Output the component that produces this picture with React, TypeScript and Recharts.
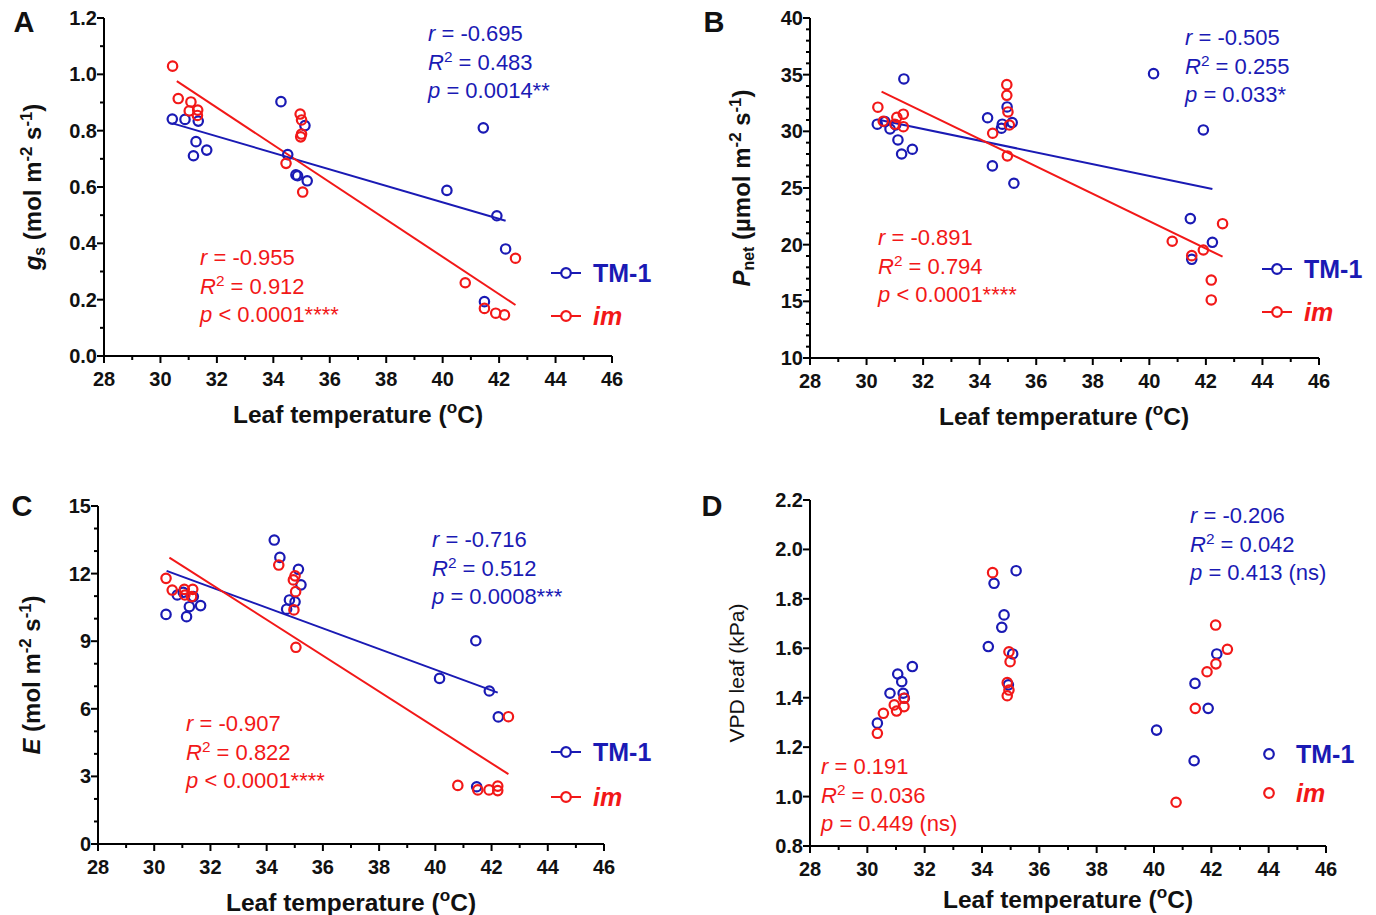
import React from "react";
import { ReferenceLine, Scatter, ScatterChart, XAxis, YAxis } from "recharts";

const BLUE = "#1a1ab4";
const RED = "#f21818";
const FONT = '"Liberation Sans", Arial, sans-serif';

// leaf temperature axis, shared by all panels
const tempTicks = [28, 29, 30, 31, 32, 33, 34, 35, 36, 37, 38, 39, 40, 41, 42, 43, 44, 45, 46];
const gsTicks = [0, 0.1, 0.2, 0.3, 0.4, 0.5, 0.6, 0.7, 0.8, 0.9, 1.0, 1.1, 1.2];
const pnetTicks = [10, 11, 12, 13, 14, 15, 16, 17, 18, 19, 20, 21, 22, 23, 24, 25, 26, 27, 28, 29, 30, 31, 32, 33, 34, 35, 36, 37, 38, 39, 40];
const eTicks = [0, 1, 2, 3, 4, 5, 6, 7, 8, 9, 10, 11, 12, 13, 14, 15];
const vpdTicks = [0.8, 1.0, 1.2, 1.4, 1.6, 1.8, 2.0, 2.2];

// [leaf temperature, value]
const gsTM = [[30.42, 0.841], [30.87, 0.84], [31.34, 0.834], [31.26, 0.761], [31.17, 0.711], [31.64, 0.731], [34.27, 0.903], [34.51, 0.715], [34.8, 0.643], [34.86, 0.64], [35.2, 0.622], [35.12, 0.818], [41.44, 0.81], [40.15, 0.588], [41.92, 0.498], [42.23, 0.38], [41.48, 0.193]];
const gsIM = [[30.43, 1.029], [30.63, 0.914], [31.08, 0.902], [31.02, 0.87], [31.32, 0.873], [31.31, 0.854], [34.95, 0.859], [35.0, 0.838], [35.0, 0.788], [34.97, 0.778], [34.45, 0.684], [35.04, 0.582], [42.58, 0.347], [40.8, 0.26], [41.48, 0.169], [41.88, 0.152], [42.19, 0.146]];
const pnetTM = [[31.32, 34.62], [30.38, 30.63], [30.65, 30.86], [30.83, 30.21], [31.03, 30.56], [31.11, 29.24], [31.24, 28.0], [31.62, 28.42], [34.28, 31.2], [34.45, 26.95], [34.77, 30.27], [34.8, 30.63], [34.97, 32.15], [35.15, 30.77], [35.21, 25.42], [40.15, 35.09], [41.91, 30.12], [41.45, 22.3], [42.23, 20.21], [41.5, 18.71]];
const pnetIM = [[30.4, 32.13], [30.59, 30.89], [31.0, 30.63], [31.07, 31.24], [31.3, 31.51], [31.3, 30.41], [34.96, 34.12], [34.96, 33.18], [35.0, 31.71], [35.05, 30.56], [34.46, 29.83], [34.98, 27.83], [42.59, 21.85], [40.81, 20.3], [41.91, 19.53], [41.5, 19.03], [42.19, 16.88], [42.19, 15.12]];
const eTM = [[30.42, 10.19], [30.82, 11.05], [31.03, 11.17], [31.15, 10.09], [31.25, 10.53], [31.39, 10.98], [31.65, 10.58], [34.27, 13.49], [34.47, 12.72], [35.13, 12.19], [35.22, 11.5], [34.81, 10.83], [35.01, 10.75], [34.71, 10.42], [41.44, 9.02], [40.15, 7.35], [41.92, 6.79], [42.24, 5.64], [41.47, 2.54]];
const eIM = [[30.42, 11.79], [30.64, 11.27], [31.07, 11.3], [31.37, 11.3], [31.09, 11.05], [31.33, 10.98], [34.43, 12.38], [35.01, 11.9], [34.95, 11.72], [35.03, 11.2], [34.97, 10.39], [35.04, 8.73], [42.6, 5.65], [40.8, 2.6], [41.51, 2.4], [41.91, 2.4], [42.22, 2.57], [42.22, 2.37]];
const vpdTM = [[30.35, 1.297], [30.79, 1.418], [31.06, 1.496], [31.2, 1.465], [31.25, 1.418], [31.29, 1.398], [31.57, 1.526], [34.22, 1.607], [34.42, 1.863], [35.19, 1.914], [34.77, 1.735], [34.69, 1.685], [35.07, 1.577], [34.92, 1.452], [40.09, 1.269], [41.43, 1.458], [42.19, 1.577], [41.89, 1.357], [41.4, 1.145]];
const vpdIM = [[30.35, 1.256], [30.56, 1.337], [30.94, 1.371], [31.02, 1.346], [31.28, 1.364], [31.28, 1.398], [34.37, 1.906], [34.94, 1.586], [34.98, 1.546], [34.88, 1.461], [34.94, 1.431], [34.88, 1.408], [42.15, 1.694], [42.56, 1.596], [42.16, 1.537], [41.85, 1.505], [41.44, 1.357], [40.77, 0.977]];

// regression line end points
const gsTMFit = [[30.43, 0.826], [42.23, 0.48]];
const gsIMFit = [[30.58, 0.976], [42.58, 0.181]];
const pnetTMFit = [[30.47, 31.0], [42.23, 24.92]];
const pnetIMFit = [[30.53, 33.5], [42.59, 18.94]];
const eTMFit = [[30.44, 12.12], [42.22, 6.72]];
const eIMFit = [[30.54, 12.71], [42.6, 3.1]];

const toPts = (rows: number[][]) => rows.map(([t, v]) => ({ t, v }));

const isMajor = (v: number, step: number, base: number) => {
  const k = (v - base) / step;
  return Math.abs(k - Math.round(k)) < 1e-6;
};

const ring = (color: string) => (p: any) =>
  <circle cx={p.cx} cy={p.cy} r={4.7} fill="none" stroke={color} strokeWidth={2.2} />;

const xTick = (p: any) => {
  const v = p.payload.value;
  const major = isMajor(v, 2, 28);
  return (
    <g>
      <line x1={p.x} x2={p.x} y1={p.y} y2={p.y + (major ? 7 : 4)} stroke="#000" strokeWidth={2} />
      {major && (
        <text x={p.x} y={p.y + 30} textAnchor="middle" fontFamily={FONT} fontSize={20} fontWeight="bold" fill="#111">
          {v}
        </text>
      )}
    </g>
  );
};

const yTick = (step: number, base: number, digits: number) => (p: any) => {
  const v = p.payload.value;
  const major = isMajor(v, step, base);
  return (
    <g>
      <line x1={p.x} x2={p.x - (major ? 7 : 4)} y1={p.y} y2={p.y} stroke="#000" strokeWidth={2} />
      {major && (
        <text x={p.x - 7} y={p.y + 7} textAnchor="end" fontFamily={FONT} fontSize={20} fontWeight="bold" fill="#111">
          {v.toFixed(digits)}
        </text>
      )}
    </g>
  );
};

type Box = { l: number; t: number; r: number; b: number };

function Panel(props: {
  box: Box;
  yDomain: [number, number];
  yTicks: number[];
  yStep: number;
  digits: number;
  tm: number[][];
  im: number[][];
  fits?: [number[][], number[][]];
}) {
  const { box } = props;
  const W = box.r - box.l + 130;
  const H = box.b - box.t + 60;
  return (
    <div style={{ position: "absolute", left: box.l - 100, top: box.t - 10 }}>
      <ScatterChart width={W} height={H} margin={{ top: 10, right: 30, bottom: 0, left: 0 }}>
        <XAxis
          type="number"
          dataKey="t"
          domain={[28, 46]}
          ticks={tempTicks}
          interval={0}
          height={50}
          tickSize={0}
          tickMargin={0}
          tickLine={false}
          axisLine={{ stroke: "#000", strokeWidth: 2 }}
          tick={xTick}
        />
        <YAxis
          type="number"
          dataKey="v"
          domain={props.yDomain}
          ticks={props.yTicks}
          interval={0}
          width={100}
          tickSize={0}
          tickMargin={0}
          tickLine={false}
          axisLine={{ stroke: "#000", strokeWidth: 2 }}
          tick={yTick(props.yStep, props.yDomain[0], props.digits)}
        />
        {props.fits &&
          props.fits.map((f, i) => (
            <ReferenceLine
              key={i}
              segment={[{ x: f[0][0], y: f[0][1] }, { x: f[1][0], y: f[1][1] }]}
              stroke={i === 0 ? BLUE : RED}
              strokeWidth={2}
              ifOverflow="visible"
            />
          ))}
        <Scatter data={toPts(props.tm)} shape={ring(BLUE)} isAnimationActive={false} />
        <Scatter data={toPts(props.im)} shape={ring(RED)} isAnimationActive={false} />
      </ScatterChart>
    </div>
  );
}

const sup: React.CSSProperties = { fontSize: "0.7em", verticalAlign: "0.55em", lineHeight: 0 };
const sub: React.CSSProperties = { fontSize: "0.66em", verticalAlign: "-0.25em", lineHeight: 0 };

function Stats(props: { x: number; y: number; color: string; r: string; r2: string; p: string }) {
  return (
    <div
      style={{
        position: "absolute",
        left: props.x,
        top: props.y - 14,
        color: props.color,
        fontFamily: FONT,
        fontSize: 22,
        lineHeight: "28.5px",
        whiteSpace: "nowrap",
      }}
    >
      <div><i>r</i> = {props.r}</div>
      <div><i>R</i><span style={sup}>2</span> = {props.r2}</div>
      <div><i>p</i> {props.p}</div>
    </div>
  );
}

function LegendBox(props: { x: number; y1: number; y2: number; withLine: boolean }) {
  const icon = (color: string) => (
    <svg width={30} height={14} style={{ marginRight: 12 }}>
      {props.withLine && <line x1={0} x2={30} y1={7} y2={7} stroke={color} strokeWidth={2} />}
      <circle cx={15} cy={7} r={4.8} fill={props.withLine ? "#fff" : "none"} stroke={color} strokeWidth={2.2} />
    </svg>
  );
  const row = (y: number, color: string, label: React.ReactNode) => (
    <div
      style={{
        position: "absolute",
        left: props.x,
        top: y - 15,
        height: 30,
        display: "flex",
        alignItems: "center",
        fontFamily: FONT,
        fontSize: 25,
        fontWeight: "bold",
        color,
        whiteSpace: "nowrap",
      }}
    >
      {icon(color)}
      {label}
    </div>
  );
  return (
    <>
      {row(props.y1, BLUE, "TM-1")}
      {row(props.y2, RED, <i>im</i>)}
    </>
  );
}

function Label(props: { x: number; y: number; rotate?: boolean; size: number; bold?: boolean; children: React.ReactNode }) {
  return (
    <div
      style={{
        position: "absolute",
        left: props.x,
        top: props.y,
        transform: `translate(-50%, -50%)${props.rotate ? " rotate(-90deg)" : ""}`,
        fontFamily: FONT,
        fontSize: props.size,
        fontWeight: props.bold === false ? "normal" : "bold",
        color: "#111",
        whiteSpace: "nowrap",
        lineHeight: 1,
      }}
    >
      {props.children}
    </div>
  );
}

const tempTitle = (
  <>
    Leaf temperature (<span style={sup}>o</span>C)
  </>
);
const perArea = (
  <>
    m<span style={sup}>-2</span> s<span style={sup}>-1</span>)
  </>
);

export default function App() {
  return (
    <div style={{ position: "absolute", left: 0, top: 0, width: 1376, height: 915, background: "#fff", overflow: "hidden" }}>
      <Panel box={{ l: 104, t: 18, r: 612, b: 356 }} yDomain={[0, 1.2]} yTicks={gsTicks} yStep={0.2} digits={1} tm={gsTM} im={gsIM} fits={[gsTMFit, gsIMFit]} />
      <Panel box={{ l: 810, t: 18, r: 1319, b: 358 }} yDomain={[10, 40]} yTicks={pnetTicks} yStep={5} digits={0} tm={pnetTM} im={pnetIM} fits={[pnetTMFit, pnetIMFit]} />
      <Panel box={{ l: 98, t: 506, r: 604, b: 844 }} yDomain={[0, 15]} yTicks={eTicks} yStep={3} digits={0} tm={eTM} im={eIM} fits={[eTMFit, eIMFit]} />
      <Panel box={{ l: 810, t: 500, r: 1326, b: 846 }} yDomain={[0.8, 2.2]} yTicks={vpdTicks} yStep={0.2} digits={1} tm={vpdTM} im={vpdIM} />

      <Label x={24} y={22} size={29}>A</Label>
      <Label x={714} y={22} size={29}>B</Label>
      <Label x={22} y={506} size={29}>C</Label>
      <Label x={712} y={506} size={29}>D</Label>

      <Label x={33} y={187} size={24} rotate>
        <i>g</i><span style={sub}>s</span> (mol {perArea}
      </Label>
      <Label x={742} y={188} size={24} rotate>
        <i>P</i><span style={sub}>net</span> (µmol {perArea}
      </Label>
      <Label x={32} y={675} size={24} rotate>
        <i>E</i> (mol {perArea}
      </Label>
      <Label x={736} y={673} size={21} rotate bold={false}>
        VPD leaf (kPa)
      </Label>

      <Label x={358} y={415} size={24.5}>{tempTitle}</Label>
      <Label x={1064} y={417} size={24.5}>{tempTitle}</Label>
      <Label x={351} y={903} size={24.5}>{tempTitle}</Label>
      <Label x={1068} y={900} size={24.5}>{tempTitle}</Label>

      <Stats x={428} y={34} color={BLUE} r="-0.695" r2="0.483" p="= 0.0014**" />
      <Stats x={200} y={258} color={RED} r="-0.955" r2="0.912" p="< 0.0001****" />
      <Stats x={1185} y={38} color={BLUE} r="-0.505" r2="0.255" p="= 0.033*" />
      <Stats x={878} y={238} color={RED} r="-0.891" r2="0.794" p="< 0.0001****" />
      <Stats x={432} y={540} color={BLUE} r="-0.716" r2="0.512" p="= 0.0008***" />
      <Stats x={186} y={724} color={RED} r="-0.907" r2="0.822" p="< 0.0001****" />
      <Stats x={1190} y={516} color={BLUE} r="-0.206" r2="0.042" p="= 0.413 (ns)" />
      <Stats x={821} y={767} color={RED} r="0.191" r2="0.036" p="= 0.449 (ns)" />

      <LegendBox x={551} y1={273} y2={316} withLine />
      <LegendBox x={1262} y1={269} y2={312} withLine />
      <LegendBox x={551} y1={752} y2={797} withLine />
      <LegendBox x={1254} y1={754} y2={793} withLine={false} />
    </div>
  );
}
